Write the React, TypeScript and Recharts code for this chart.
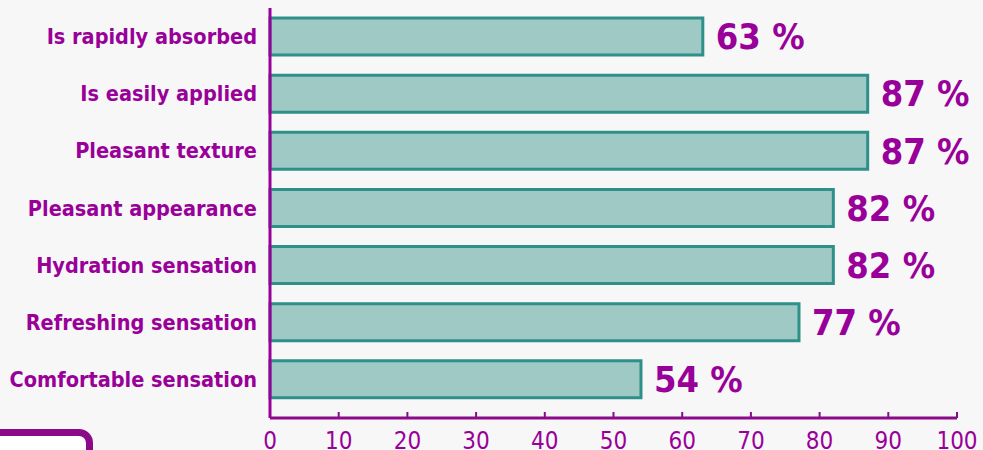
import React from 'react';
import { BarChart, Bar, XAxis, YAxis, LabelList } from 'recharts';

const categories = [
  'Is rapidly absorbed',
  'Is easily applied',
  'Pleasant texture',
  'Pleasant appearance',
  'Hydration sensation',
  'Refreshing sensation',
  'Comfortable sensation',
];
const values = [63, 87, 87, 82, 82, 77, 54];
const xTicks = [0, 10, 20, 30, 40, 50, 60, 70, 80, 90, 100];

const data = categories.map((name, i) => ({ name, value: values[i] }));

const PURPLE = '#990099';
const AXIS = '#8a0a8a';
const FONT = '"DejaVu Sans Condensed", "DejaVu Sans", Verdana, sans-serif';

export default function App() {
  return (
    <div
      style={{
        position: 'fixed',
        left: 0,
        top: 0,
        width: 983,
        height: 450,
        background: '#f7f7f7',
        overflow: 'hidden',
        fontFamily: FONT,
      }}
    >
      <BarChart
        width={983}
        height={450}
        data={data}
        layout="vertical"
        margin={{ top: 8, right: 26, bottom: 0, left: 0 }}
      >
        <XAxis
          type="number"
          domain={[0, 100]}
          ticks={xTicks}
          interval={0}
          height={32}
          axisLine={{ stroke: AXIS, strokeWidth: 3 }}
          tickLine={{ stroke: AXIS, strokeWidth: 2 }}
          tickSize={-6}
          tickMargin={20}
          tick={{ fill: PURPLE, fontSize: 24, fontFamily: FONT }}
        />
        <YAxis
          type="category"
          dataKey="name"
          width={270}
          padding={{ top: 0, bottom: 10 }}
          axisLine={{ stroke: PURPLE, strokeWidth: 3 }}
          tickLine={false}
          tickSize={0}
          tickMargin={13}
          interval={0}
          tick={{ fill: PURPLE, fontSize: 21.5, fontWeight: 'bold', fontFamily: FONT }}
        />
        <Bar
          dataKey="value"
          fill="#9ec9c5"
          stroke="#2e9088"
          strokeWidth={3}
          barSize={37}
          isAnimationActive={false}
        >
          <LabelList
            dataKey="value"
            position="right"
            offset={13}
            formatter={(v: any) => `${v} %`}
            style={{ fill: PURPLE, fontSize: 36, fontWeight: 'bold', fontFamily: FONT }}
          />
        </Bar>
      </BarChart>
      <div
        style={{
          position: 'absolute',
          left: -30,
          top: 429,
          width: 109,
          height: 60,
          border: `7px solid ${AXIS}`,
          borderRadius: 14,
          background: '#ffffff',
        }}
      />
    </div>
  );
}
